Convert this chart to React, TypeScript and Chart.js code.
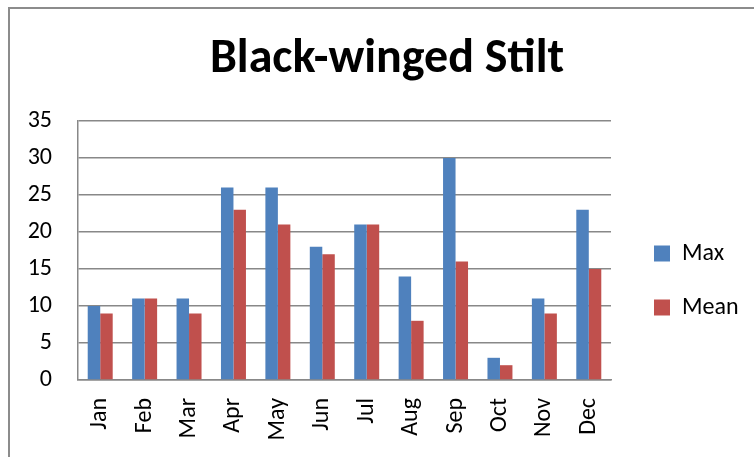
import React, { useEffect, useRef } from "react";
import { Chart, registerables } from "chart.js";

Chart.register(...registerables);

const categories = ["Jan", "Feb", "Mar", "Apr", "May", "Jun", "Jul", "Aug", "Sep", "Oct", "Nov", "Dec"];
const maxValues = [10, 11, 11, 26, 26, 18, 21, 14, 30, 3, 11, 23];
const meanValues = [9, 11, 9, 23, 21, 17, 21, 8, 16, 2, 9, 15];
const yTicks = [0, 5, 10, 15, 20, 25, 30, 35];

const FONT = "Carlito, Calibri, 'Liberation Sans', sans-serif";
const GRID = "#888888";

const legendShift = {
  id: "legendShift",
  beforeLayout(chart: any) {
    const lg = chart.legend;
    if (lg && !lg._patched) {
      const fit = lg.fit.bind(lg);
      lg.fit = function () {
        fit();
        this.width = 143;
      };
      lg._patched = true;
    }
  },
  afterLayout(chart: any) {
    const lg = chart.legend;
    if (lg) {
      lg.left += 13;
      lg.right += 13;
      lg.top += 30;
      lg.bottom += 30;
    }
  },
};

export default function App() {
  const ref = useRef<HTMLCanvasElement | null>(null);
  useEffect(() => {
    if (!ref.current) return;
    const chart = new Chart(ref.current, {
      type: "bar",
      data: {
        labels: categories,
        datasets: [
          { label: "Max", data: maxValues, backgroundColor: "#4F81BD", barPercentage: 1, categoryPercentage: 0.5625 },
          { label: "Mean", data: meanValues, backgroundColor: "#C0504D", barPercentage: 1, categoryPercentage: 0.5625 },
        ],
      },
      options: {
        animation: false,
        responsive: false,
        maintainAspectRatio: false,
        layout: { padding: { left: 20, right: 0, top: 31, bottom: 0 } },
        plugins: {
          title: {
            display: true,
            text: "Black-winged Stilt",
            color: "#000",
            font: { family: FONT, size: 48, weight: "bold" },
            padding: { top: 0, bottom: 32.4 },
            fullSize: true,
          },
          legend: {
            display: true,
            position: "right",
            fullSize: false,
            labels: {
              boxWidth: 16,
              boxHeight: 16,
              padding: 30,
              color: "#000",
              font: { family: FONT, size: 24 },
            },
          },
          tooltip: { enabled: false },
        },
        scales: {
          x: {
            grid: { display: false, drawTicks: false },
            border: { display: true, color: GRID, width: 1.5 },
            ticks: {
              color: "#000",
              font: { family: FONT, size: 24 },
              minRotation: 90,
              maxRotation: 90,
              padding: 18,
            },
            afterFit(scale: any) {
              scale.height = 77;
            },
          },
          y: {
            min: 0,
            max: 35,
            afterBuildTicks(scale: any) {
              scale.ticks = yTicks.map((v) => ({ value: v }));
            },
            grid: { color: GRID, lineWidth: 1.5, drawTicks: false },
            border: { display: true, color: GRID, width: 1.5 },
            ticks: {
              color: "#000",
              font: { family: FONT, size: 24 },
              padding: 26,
            },
            afterFit(scale: any) {
              scale.width = 58;
            },
          },
        },
      },
      plugins: [legendShift],
    } as any);
    return () => chart.destroy();
  }, []);

  return (
    <div style={{ position: "fixed", left: 0, top: 0, width: 754, height: 457, background: "#fff", overflow: "hidden" }}>
      <div
        style={{
          position: "absolute",
          left: 8,
          top: 7,
          width: 800,
          height: 500,
          border: "2px solid #8c8c8c",
          boxSizing: "border-box",
        }}
      />
      <canvas ref={ref} width={754} height={457} style={{ position: "absolute", left: 0, top: 0 }} />
    </div>
  );
}
